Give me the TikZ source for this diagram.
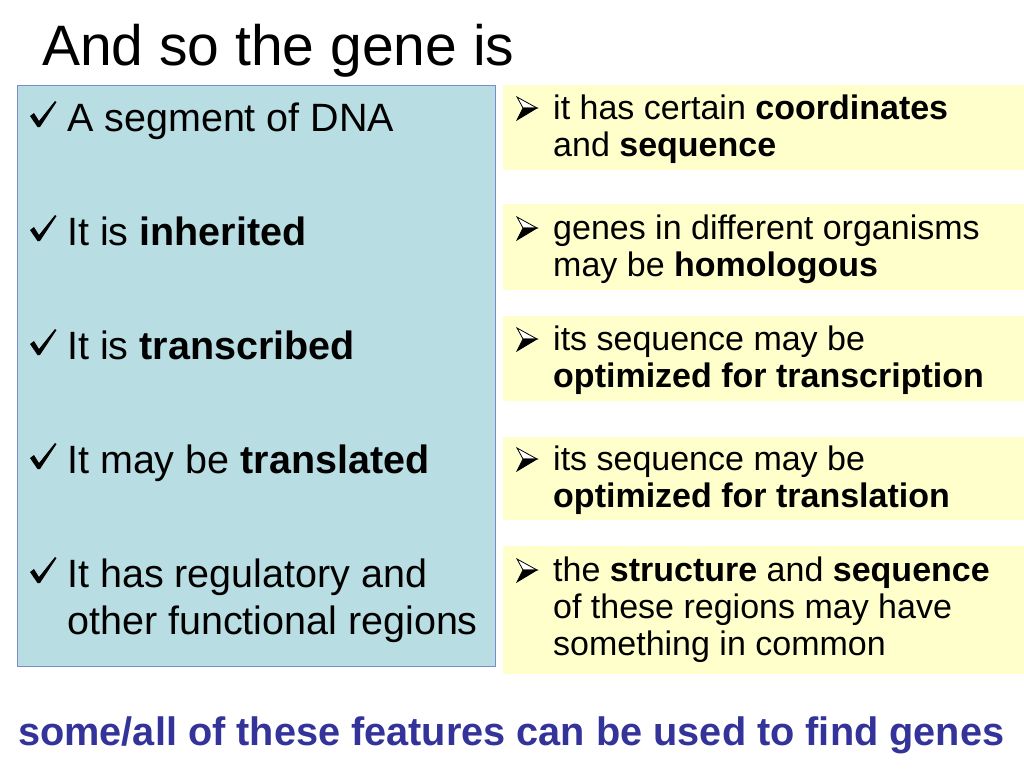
\documentclass[tikz,border=0pt]{standalone}
\usepackage{fontspec}
\setmainfont{Liberation Sans}
\definecolor{boxblue}{RGB}{184,222,227}
\definecolor{boxedge}{RGB}{122,140,200}
\definecolor{boxyellow}{RGB}{255,255,204}
\definecolor{navy}{RGB}{51,51,153}
\begin{document}
\begin{tikzpicture}[x=1pt,y=-1pt,
  panel/.style={draw=boxedge, line width=1pt, fill=boxblue, anchor=north west, inner sep=0pt},
  note/.style={fill=boxyellow, anchor=north west, inner sep=0pt, minimum width=521pt},
  ltext/.style={anchor=base west, inner sep=0pt, align=left, font=\fontsize{39.5}{47}\selectfont},
  rtext/.style={anchor=base west, inner sep=0pt, align=left, font=\fontsize{34}{37}\selectfont},
  tick/.pic={\fill[black] (0,-15) -- (4,-18) -- (9,-10) -- (25,-30) -- (26.5,-29) -- (10,-4) -- (7.5,-4) -- cycle;},
  arrowbul/.pic={
    \filldraw[fill=white, draw=black, line width=0.8pt, line join=miter] (0,-22) -- (20,-11) -- (6,-11) -- cycle;
    \filldraw[fill=black, draw=black, line width=0.8pt, line join=miter] (6,-11) -- (20,-11) -- (0,1) -- cycle;}]
\useasboundingbox (0,0) rectangle (1024,768);
\fill[white] (0,0) rectangle (1024,768);
% title
\node (title) [anchor=base west, inner sep=0pt, font=\fontsize{57}{64}\selectfont] at (42,65) {And so the gene is};
% left panel
\node (left) [panel, minimum width=478pt, minimum height=581pt] at (17,85) {};
% right notes
\node (n1) [note, minimum height=85pt] at (503,85) {};
\node (n2) [note, minimum height=86pt] at (503,204) {};
\node (n3) [note, minimum height=85pt] at (503,316) {};
\node (n4) [note, minimum height=83pt] at (503,437) {};
\node (n5) [note, minimum height=128pt] at (503,546) {};
% left items (check marks)
\pic at (30,131) {tick};
\node (l1) [ltext] at (67,131) {A segment of DNA};
\pic at (30,245) {tick};
\node (l2) [ltext] at (67,245) {It is \textbf{inherited}};
\pic at (30,359) {tick};
\node (l3) [ltext] at (67,359) {It is \textbf{transcribed}};
\pic at (30,473) {tick};
\node (l4) [ltext] at (67,473) {It may be \textbf{translated}};
\pic at (30,587) {tick};
\node (l5) [ltext] at (67,634) {It has regulatory and\\other functional regions};
% right items (arrowhead bullets)
\pic at (517,119) {arrowbul};
\node (r1) [rtext] at (553,156) {it has certain \textbf{coordinates}\\and \textbf{sequence}};
\pic at (517,239) {arrowbul};
\node (r2) [rtext] at (553,276) {genes in different organisms\\may be \textbf{homologous}};
\pic at (517,350) {arrowbul};
\node (r3) [rtext] at (553,387) {its sequence may be\\\textbf{optimized for transcription}};
\pic at (517,470) {arrowbul};
\node (r4) [rtext] at (553,507) {its sequence may be\\\textbf{optimized for translation}};
\pic at (517,581) {arrowbul};
\node (r5) [rtext] at (553,655) {the \textbf{structure} and \textbf{sequence}\\of these regions may have\\something in common};
% bottom line
\node (foot) [anchor=base west, inner sep=0pt, text=navy, font=\bfseries\fontsize{39.7}{46}\selectfont] at (18,745) {some/all of these features can be used to find genes};
\end{tikzpicture}
\end{document}
